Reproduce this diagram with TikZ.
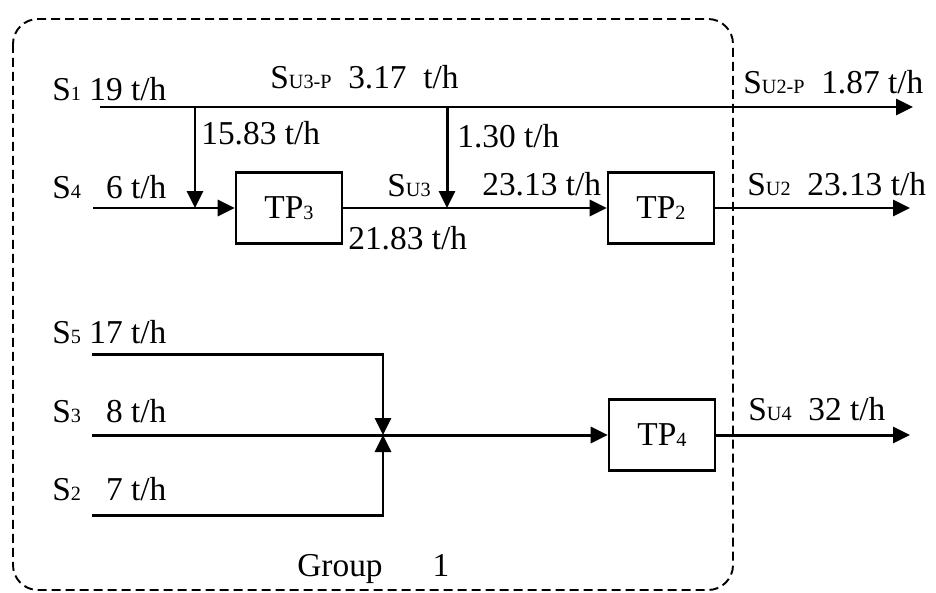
\documentclass[tikz,border=0pt]{standalone}
\usepackage{fontspec}
\setmainfont{Liberation Serif}
\usepackage{tikz}
\usetikzlibrary{arrows.meta}
\newcommand{\idx}[1]{\raisebox{-0.4pt}{\fontsize{11.5}{12}\selectfont #1}}

\begin{document}
\begin{tikzpicture}[
x=0.02cm, y=-0.02cm,
unit/.style={draw, line width=1.5pt, minimum width=2.12cm, minimum height=1.42cm, inner sep=0pt, font=\fontsize{19}{22}\selectfont},
flow/.style={-{Triangle[length=0.34cm, width=0.32cm]}, line width=1.7pt},
group/.style={dash pattern=on 0.18cm off 0.1cm, line width=1.1pt, rounded corners=0.5cm},
lbl/.style={anchor=base west, inner sep=0pt, font=\fontsize{19}{22}\selectfont}
]
\useasboundingbox (0,0) rectangle (936,592);
\draw[group] (13,19) rectangle (733,590);

% process units
\node[unit] (tp3) at (289,208) {TP\idx{3}};
\node[unit] (tp2) at (661,208) {TP\idx{2}};
\node[unit] (tp4) at (662,435) {TP\idx{4}};

% stream ends and junctions
\coordinate (s1) at (100,107);
\coordinate (su2p) at (913,107);
\coordinate (j1) at (195,107);
\coordinate (j1b) at (195,208);
\coordinate (s4) at (93,208);
\coordinate (j2) at (447,107);
\coordinate (j2b) at (447,208);
\coordinate (su2) at (910,208);
\coordinate (s5) at (92,354);
\coordinate (s3) at (92,435);
\coordinate (s2) at (92,515);
\coordinate (mix) at (383,435);
\coordinate (su4) at (910,435);

\draw[flow] (s1) -- (su2p);
\draw[flow] (j1) -- (j1b);
\draw[flow] (j2) -- (j2b);
\draw[flow] (s4) -- (tp3);
\draw[flow] (tp3) -- (tp2);
\draw[flow] (tp2) -- (su2);
\draw[flow] (s5) -| (mix);
\draw[flow] (s2) -| (mix);
\draw[flow] (s3) -- (tp4);
\draw[flow] (tp4) -- (su4);

% labels
\node[lbl] (l1) at (52,100) {S\idx{1} 19 t/h};
\node[lbl] (lu3p) at (270,88) {S\idx{U3-P}\enspace 3.17\enspace t/h};
\node[lbl] (l15) at (201,144) {15.83 t/h};
\node[lbl] (l130) at (457,147) {1.30 t/h};
\node[lbl] (l4) at (52,198) {S\idx{4}\enspace\ 6 t/h};
\node[lbl] (lu3) at (387,196) {S\idx{U3}};
\node[lbl] (l2313) at (482,195) {23.13 t/h};
\node[lbl] (l2183) at (348,249) {21.83 t/h};
\node[lbl] (lu2p) at (743,93) {S\idx{U2-P}\enspace 1.87 t/h};
\node[lbl] (lu2) at (747,195) {S\idx{U2}\enspace 23.13 t/h};
\node[lbl] (l5) at (52,343) {S\idx{5} 17 t/h};
\node[lbl] (l3) at (52,422) {S\idx{3}\enspace\ 8 t/h};
\node[lbl] (l2) at (52,500) {S\idx{2}\enspace\ 7 t/h};
\node[lbl] (lu4) at (748,420) {S\idx{U4}\enspace 32 t/h};
\node[lbl] (grp) at (297,576) {Group\quad\enspace 1};
\end{tikzpicture}
\end{document}
